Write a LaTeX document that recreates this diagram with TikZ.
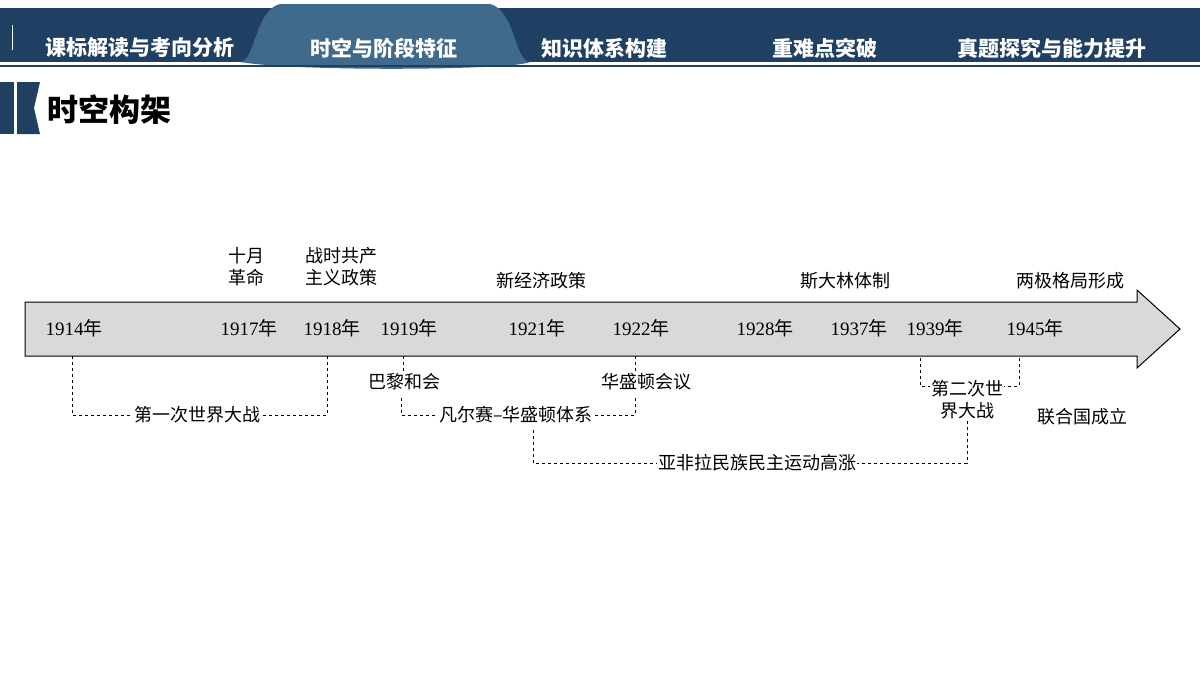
\documentclass[tikz,border=0pt]{standalone}
\usepackage{fontspec}
\setmainfont{Liberation Serif}
\newfontfamily\cjk{Noto Sans CJK SC}
\usetikzlibrary{positioning,calc}
\definecolor{navy}{HTML}{1F3F63}
\definecolor{tabblue}{HTML}{3F6A8C}
\definecolor{barfill}{HTML}{D9D9D9}
\tikzset{
  year/.style={font=\fontsize{19}{19}\selectfont},
  lbl/.style={font=\cjk\fontsize{18}{22}\selectfont,align=center,inner sep=1pt},
  tab/.style={font=\cjk\bfseries\fontsize{21}{21}\selectfont,text=white},
  brk/.style={dashed,thin,black}
}
\begin{document}
\begin{tikzpicture}[x=1pt,y=-1pt]
\useasboundingbox (0,0) rectangle (1200,675);
% header band
\fill[navy] (0,8) rectangle (1200,62);
\fill[tabblue] (240,62) .. controls (255,62) and (255,10) .. (280,4) -- (490,4) .. controls (515,10) and (515,62) .. (530,62) .. controls (515,70) and (300,72) .. (240,62) -- cycle;
\draw[navy,line width=1.5pt] (0,66) -- (1200,66);
\draw[white,line width=1pt] (12,25) -- (12,50);
\node[tab] (t1) at (140,48) {课标解读与考向分析};
\node[tab] (t2) at (384,48) {时空与阶段特征};
\node[tab] (t3) at (604,48) {知识体系构建};
\node[tab] (t4) at (825,48) {重难点突破};
\node[tab] (t5) at (1052,48) {真题探究与能力提升};
% title
\fill[navy] (0,82) rectangle (14,134);
\fill[navy] (17,82) -- (40,82) -- (34,108) -- (40,134) -- (17,134) -- cycle;
\node[font=\cjk\bfseries\fontsize{31}{31}\selectfont,anchor=west] (title) at (44,110) {时空构架};
% timeline arrow
\draw[fill=barfill,line width=1pt] (25,302) -- (1137,302) -- (1137,290) -- (1180,329) -- (1137,368) -- (1137,356) -- (25,356) -- cycle;
\foreach \n/\x/\t in {a/74/1914,b/249/1917,c/332/1918,d/409/1919,e/537/1921,f/641/1922,g/765/1928,h/859/1937,i/935/1939,j/1035/1945}
  \node[year] (y\n) at (\x,328) {\t{\cjk 年}};
% labels above
\node[lbl] (oct)  at (246,267) {十月\\革命};
\node[lbl] (war)  at (341,267) {战时共产\\主义政策};
\node[lbl] (nep)  at (541,281) {新经济政策};
\node[lbl] (stal) at (845,281) {斯大林体制};
\node[lbl] (bipo) at (1070,281) {两极格局形成};
% labels below
\node[lbl] (ww1)  at (197,415) {第一次世界大战};
\node[lbl] (pari) at (404,382) {巴黎和会};
\node[lbl] (wash) at (646,382) {华盛顿会议};
\node[lbl] (vers) at (516,415) {凡尔赛–华盛顿体系};
\node[lbl] (ww2)  at (967,400) {第二次世\\界大战};
\node[lbl] (un)   at (1082,417) {联合国成立};
\node[lbl] (afro) at (757,463) {亚非拉民族民主运动高涨};
% brackets
\draw[brk] (72,356) |- (ww1.west);
\draw[brk] (327,356) |- (ww1.east);
\draw[brk] (403,356) -- (pari.north -| 403,0) (401,398) |- (vers.west);
\draw[brk] (635,356) -- (wash.north -| 635,0) (635,398) |- (vers.east);
\draw[brk] (920,358) |- (ww2.west |- 0,386);
\draw[brk] (1019,358) |- (ww2.east |- 0,386);
\draw[brk] (533,430) |- (afro.west);
\draw[brk] (ww2.south) |- (afro.east);
\end{tikzpicture}
\end{document}
